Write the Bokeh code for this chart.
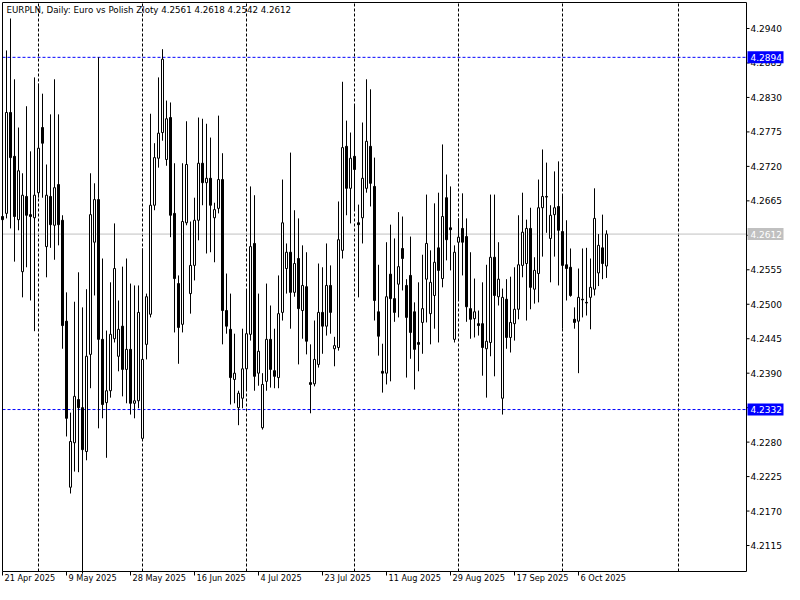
from datetime import date, timedelta
from bokeh.plotting import figure
from bokeh.models import ColumnDataSource, Range1d
from bokeh.core.properties import value
from bokeh.embed import file_html
from bokeh.resources import INLINE

chart_title = "EURPLN, Daily:  Euro vs Polish Zloty  4.2561 4.2618 4.2542 4.2612"
first_bar_date = date(2025, 4, 21)

opens = [4.2640, 4.2645, 4.2806, 4.2736, 4.2635, 4.2552, 4.2672, 4.2643, 4.2638, 4.2678,
         4.2782, 4.2592, 4.2672, 4.2626, 4.2691, 4.2634, 4.2473, 4.2208, 4.2279, 4.2348,
         4.2335, 4.2265, 4.2420, 4.2599, 4.2667, 4.2444, 4.2343, 4.2362, 4.2445, 4.2417,
         4.2465, 4.2396, 4.2428, 4.2342, 4.2346, 4.2286, 4.2436, 4.2484, 4.2658, 4.2733,
         4.2774, 4.2731, 4.2798, 4.2645, 4.2533, 4.2468, 4.2630, 4.2517, 4.2562, 4.2634,
         4.2725, 4.2694, 4.2701, 4.2638, 4.2653, 4.2699, 4.2490, 4.2460, 4.2380, 4.2335,
         4.2350, 4.2397, 4.2452, 4.2597, 4.2390, 4.2303, 4.2377, 4.2444, 4.2394, 4.2383,
         4.2487, 4.2557, 4.2583, 4.2519, 4.2573, 4.2490, 4.2528, 4.2375, 4.2373, 4.2404,
         4.2487, 4.2465, 4.2530, 4.2429, 4.2431, 4.2586, 4.2752, 4.2685, 4.2736, 4.2630,
         4.2638, 4.2685, 4.2752, 4.2688, 4.2488, 4.2393, 4.2390, 4.2548, 4.2509, 4.2532,
         4.2589, 4.2530, 4.2546, 4.2488, 4.2439, 4.2471, 4.2540, 4.2485, 4.2514, 4.2590,
         4.2541, 4.2670, 4.2622, 4.2444, 4.2599, 4.2621, 4.2608, 4.2493, 4.2477, 4.2469,
         4.2469, 4.2429, 4.2439, 4.2575, 4.2512, 4.2350, 4.2508, 4.2447, 4.2469, 4.2492,
         4.2562, 4.2565, 4.2621, 4.2524, 4.2549, 4.2654, 4.2672, 4.2605, 4.2643, 4.2656,
         4.2616, 4.2563, 4.2559, 4.2476, 4.2473, 4.2508, 4.2503, 4.2511, 4.2524, 4.2550,
         4.2590, 4.2561]
highs = [4.2658, 4.2905, 4.2956, 4.2859, 4.2782, 4.2709, 4.2816, 4.2744, 4.2862, 4.2852,
         4.2836, 4.2723, 4.2803, 4.2859, 4.2803, 4.2642, 4.2519, 4.2327, 4.2504, 4.2551,
         4.2495, 4.2524, 4.2709, 4.2693, 4.2894, 4.2573, 4.2458, 4.2535, 4.2629, 4.2506,
         4.2560, 4.2573, 4.2533, 4.2530, 4.2530, 4.2589, 4.2517, 4.2804, 4.2757, 4.2862,
         4.2907, 4.2825, 4.2822, 4.2725, 4.2546, 4.2725, 4.2792, 4.2632, 4.2670, 4.2798,
         4.2796, 4.2788, 4.2766, 4.2662, 4.2801, 4.2741, 4.2549, 4.2517, 4.2453, 4.2362,
         4.2461, 4.2522, 4.2688, 4.2674, 4.2517, 4.2390, 4.2533, 4.2498, 4.2461, 4.2546,
         4.2699, 4.2597, 4.2742, 4.2650, 4.2637, 4.2594, 4.2583, 4.2436, 4.2474, 4.2565,
         4.2559, 4.2597, 4.2562, 4.2448, 4.2664, 4.2855, 4.2793, 4.2774, 4.2819, 4.2659,
         4.2790, 4.2859, 4.2843, 4.2734, 4.2563, 4.2437, 4.2599, 4.2627, 4.2605, 4.2647,
         4.2640, 4.2540, 4.2608, 4.2503, 4.2535, 4.2579, 4.2675, 4.2586, 4.2661, 4.2678,
         4.2755, 4.2707, 4.2688, 4.2594, 4.2637, 4.2677, 4.2637, 4.2583, 4.2541, 4.2490,
         4.2535, 4.2563, 4.2675, 4.2675, 4.2599, 4.2525, 4.2540, 4.2544, 4.2559, 4.2642,
         4.2678, 4.2635, 4.2654, 4.2575, 4.2699, 4.2747, 4.2726, 4.2658, 4.2712, 4.2728,
         4.2675, 4.2634, 4.2589, 4.2495, 4.2557, 4.2589, 4.2590, 4.2573, 4.2685, 4.2612,
         4.2643, 4.2618]
lows = [4.2626, 4.2637, 4.2621, 4.2568, 4.2618, 4.2511, 4.2559, 4.2506, 4.2457, 4.2670,
        4.2670, 4.2543, 4.2590, 4.2571, 4.2594, 4.2429, 4.2289, 4.2198, 4.2233, 4.2232,
        4.2070, 4.2251, 4.2366, 4.2514, 4.2302, 4.2318, 4.2255, 4.2351, 4.2439, 4.2393,
        4.2353, 4.2342, 4.2324, 4.2318, 4.2334, 4.2286, 4.2412, 4.2479, 4.2650, 4.2718,
        4.2761, 4.2721, 4.2607, 4.2455, 4.2405, 4.2455, 4.2626, 4.2485, 4.2538, 4.2602,
        4.2658, 4.2581, 4.2583, 4.2567, 4.2645, 4.2436, 4.2453, 4.2340, 4.2342, 4.2307,
        4.2334, 4.2362, 4.2442, 4.2362, 4.2370, 4.2300, 4.2362, 4.2367, 4.2366, 4.2366,
        4.2474, 4.2517, 4.2461, 4.2512, 4.2404, 4.2445, 4.2420, 4.2326, 4.2369, 4.2399,
        4.2421, 4.2450, 4.2453, 4.2401, 4.2426, 4.2573, 4.2642, 4.2629, 4.2650, 4.2511,
        4.2597, 4.2678, 4.2656, 4.2474, 4.2418, 4.2359, 4.2372, 4.2377, 4.2472, 4.2479,
        4.2522, 4.2383, 4.2413, 4.2364, 4.2393, 4.2421, 4.2471, 4.2436, 4.2461, 4.2439,
        4.2527, 4.2570, 4.2554, 4.2439, 4.2506, 4.2546, 4.2472, 4.2445, 4.2447, 4.2450,
        4.2386, 4.2351, 4.2417, 4.2385, 4.2498, 4.2324, 4.2429, 4.2423, 4.2442, 4.2476,
        4.2543, 4.2474, 4.2492, 4.2501, 4.2503, 4.2576, 4.2614, 4.2535, 4.2576, 4.2530,
        4.2461, 4.2506, 4.2512, 4.2461, 4.2390, 4.2479, 4.2482, 4.2460, 4.2514, 4.2529,
        4.2540, 4.2542]
closes = [4.2635, 4.2806, 4.2734, 4.2640, 4.2713, 4.2674, 4.2642, 4.2640, 4.2674, 4.2749,
          4.2757, 4.2674, 4.2627, 4.2686, 4.2627, 4.2466, 4.2318, 4.2281, 4.2353, 4.2335,
          4.2268, 4.2417, 4.2643, 4.2667, 4.2444, 4.2340, 4.2362, 4.2452, 4.2557, 4.2460,
          4.2396, 4.2428, 4.2342, 4.2346, 4.2487, 4.2412, 4.2512, 4.2658, 4.2734, 4.2773,
          4.2891, 4.2796, 4.2642, 4.2541, 4.2463, 4.2632, 4.2723, 4.2562, 4.2634, 4.2725,
          4.2694, 4.2701, 4.2658, 4.2651, 4.2699, 4.2490, 4.2465, 4.2383, 4.2390, 4.2358,
          4.2397, 4.2453, 4.2592, 4.2385, 4.2425, 4.2372, 4.2444, 4.2396, 4.2385, 4.2485,
          4.2630, 4.2583, 4.2519, 4.2565, 4.2493, 4.2530, 4.2441, 4.2372, 4.2412, 4.2487,
          4.2465, 4.2530, 4.2487, 4.2434, 4.2603, 4.2750, 4.2685, 4.2733, 4.2715, 4.2627,
          4.2701, 4.2760, 4.2693, 4.2506, 4.2449, 4.2390, 4.2512, 4.2509, 4.2487, 4.2560,
          4.2573, 4.2479, 4.2455, 4.2428, 4.2436, 4.2493, 4.2597, 4.2535, 4.2567, 4.2554,
          4.2640, 4.2603, 4.2619, 4.2583, 4.2607, 4.2599, 4.2496, 4.2476, 4.2488, 4.2466,
          4.2431, 4.2441, 4.2575, 4.2514, 4.2540, 4.2511, 4.2447, 4.2471, 4.2492, 4.2563,
          4.2615, 4.2621, 4.2527, 4.2554, 4.2654, 4.2672, 4.2671, 4.2642, 4.2654, 4.2618,
          4.2562, 4.2557, 4.2514, 4.2471, 4.2511, 4.2507, 4.2502, 4.2527, 4.2637, 4.2594,
          4.2565, 4.2612]

price_ticks = [4.2115, 4.2170, 4.2225, 4.2280, 4.2335, 4.2390, 4.2445, 4.2500,
               4.2555, 4.2610, 4.2665, 4.2720, 4.2775, 4.2830, 4.2885, 4.2940]
level_prices = [4.2894, 4.2332]
bid_price = 4.2612
label_every = 16

# ---------------- layout (pixels of the 784 x 584 canvas) ----------------
W, H = 784, 584
BAR0_PX = 2.0          # canvas x of the first bar
BAR_PX = 4.0           # pixels per bar
PRICE_AT_TOP = 4.29847 # price at canvas y = 0
PX_PER_PRICE = 6266.8
CH_L, CH_R, CH_T, CH_B = 2.0, 746.0, 2.0, 571.0   # chart frame
FONT = "DejaVu Sans"
AXIS_FS = "9px"
BLUE = "#0000FF"
GREY = "#C0C0C0"


def cx(px):
    return (px - BAR0_PX) / BAR_PX


def cy(py):
    return PRICE_AT_TOP - py / PX_PER_PRICE


n = len(opens)
n_slots = int(round(cx(CH_R))) + 2
# one bar per day Sunday..Friday for the history, calendar days for the future
bar_dates = []
d = first_bar_date
while len(bar_dates) < n:
    if d.weekday() != 5:
        bar_dates.append(d)
    d += timedelta(days=1)
last_date = bar_dates[-1]
j = 1
while len(bar_dates) < n_slots:
    bar_dates.append(last_date + timedelta(days=j))
    j += 1

p = figure(width=W, height=H, output_backend="svg", toolbar_location=None,
           x_range=Range1d(cx(0), cx(W)), y_range=Range1d(cy(H), cy(0)),
           x_axis_type=None, y_axis_type=None,
           min_border=0, min_border_left=0, min_border_right=0,
           min_border_top=0, min_border_bottom=0,
           background_fill_color="white", border_fill_color="white")
p.grid.visible = False
p.outline_line_color = None

xl, xr, yt, yb = cx(CH_L), cx(CH_R), cy(CH_T), cy(CH_B)

# month separators
month_x = [i for i in range(1, n_slots)
           if bar_dates[i].month != bar_dates[i - 1].month and xl < i < xr]
p.segment(x0=month_x, y0=[yb] * len(month_x), x1=month_x, y1=[yt] * len(month_x),
          line_color="black", line_dash="3 2", line_width=1)
# horizontal levels and bid line
p.segment(x0=[xl] * 2, y0=level_prices, x1=[xr] * 2, y1=level_prices,
          line_color=BLUE, line_dash="3 2", line_width=1)
p.segment(x0=[xl], y0=[bid_price], x1=[xr], y1=[bid_price], line_color=GREY, line_width=1)

# candles
src = ColumnDataSource(dict(
    x=list(range(n)), high=highs, low=lows,
    top=[max(o, c) for o, c in zip(opens, closes)],
    bottom=[min(o, c) for o, c in zip(opens, closes)],
    fill=["white" if c > o else "black" for o, c in zip(opens, closes)],
))
p.segment(x0="x", y0="low", x1="x", y1="high", source=src, line_color="black", line_width=1)
p.vbar(x="x", width=0.5, top="top", bottom="bottom", fill_color="fill",
       line_color="black", line_width=1, source=src)

# chart frame
p.segment(x0=[xl, xl, xr, xl], y0=[yb, yt, yb, yb], x1=[xl, xr, xr, xr], y1=[yt, yt, yt, yb],
          line_color="black", line_width=1)

# right price scale
tick_l, tick_r = cx(CH_R), cx(CH_R + 3)
p.segment(x0=[tick_l] * len(price_ticks), y0=price_ticks, x1=[tick_r] * len(price_ticks),
          y1=price_ticks, line_color="black", line_width=1)
p.text(x=[cx(750)] * len(price_ticks), y=price_ticks, text=[f"{t:.4f}" for t in price_ticks],
       text_font=value(FONT), text_font_size=value(AXIS_FS), text_color="black",
       text_baseline="middle", text_align="left")

# highlighted price boxes
box_prices = [level_prices[0], bid_price, level_prices[1]]
box_colors = [BLUE, GREY, BLUE]
half = 6.0 / PX_PER_PRICE
p.quad(left=[cx(747)] * 3, right=[cx(783)] * 3,
       top=[b + half for b in box_prices], bottom=[b - half for b in box_prices],
       fill_color=box_colors, line_color=None)
p.text(x=[cx(750)] * 3, y=box_prices, text=[f"{b:.4f}" for b in box_prices],
       text_font=value(FONT), text_font_size=value(AXIS_FS), text_color="white",
       text_baseline="middle", text_align="left")

# time scale
label_idx = list(range(0, n, label_every))
date_texts = [f"{bar_dates[i].day} {bar_dates[i].strftime('%b')} {bar_dates[i].year}" for i in label_idx]
p.segment(x0=label_idx, y0=[yb] * len(label_idx), x1=label_idx, y1=[cy(CH_B + 4)] * len(label_idx),
          line_color="black", line_width=1)
p.text(x=label_idx, y=[cy(CH_B + 1.5)] * len(label_idx), text=date_texts, x_offset=2,
       text_font=value(FONT), text_font_size=value("8.2px"), text_color="black",
       text_baseline="top", text_align="left")

# chart title
p.text(x=[cx(6)], y=[cy(4)], text=[chart_title], text_font=value(FONT),
       text_font_size=value("8.7px"), text_color="black",
       text_baseline="top", text_align="left")

open("out.html", "w").write(file_html(p, INLINE))
